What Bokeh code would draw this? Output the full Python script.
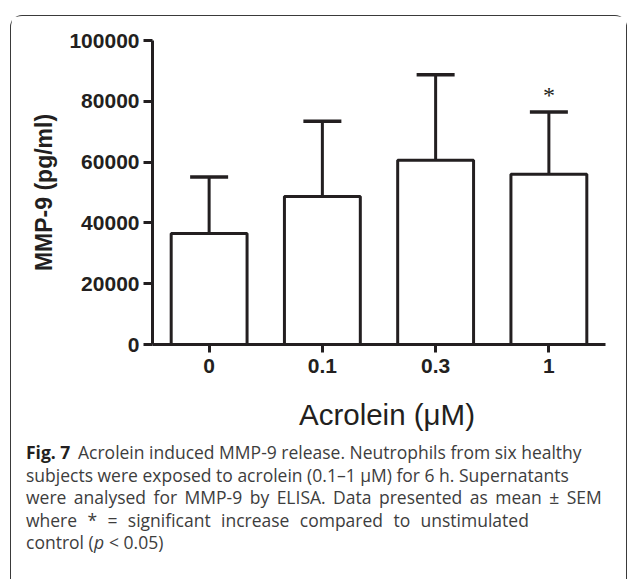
from bokeh.plotting import figure
from bokeh.layouts import column
from bokeh.models import (FactorRange, Range1d, FixedTicker, Whisker, TeeHead,
                          ColumnDataSource, LabelSet)
from bokeh.core.properties import value
from bokeh.embed import file_html
from bokeh.resources import INLINE

# ---- data ----
cats = ["0", "0.1", "0.3", "1"]
means = [36500, 48700, 60600, 56000]
sems = [18600, 24700, 28100, 20500]
sig = ["", "", "", "*"]
yticks = [0, 20000, 40000, 60000, 80000, 100000]
x_title = "Acrolein (\u03bcM)"
y_title = "MMP-9 (pg/ml)"

upper = [m + s for m, s in zip(means, sems)]
src = ColumnDataSource(dict(cat=cats, mean=means, upper=upper, sig=sig))

INK = "#231f20"
W = 615
OX, OY = 11.5, 16.5          # page offset of layout content (margin + border)
PH = 379                     # chart figure height

p = figure(width=W, height=PH, x_range=FactorRange(*cats), y_range=Range1d(0, 100000),
           output_backend="svg", toolbar_location=None, title=None,
           min_border_left=141, min_border_right=21, min_border_top=24, min_border_bottom=51)
p.outline_line_color = None
p.grid.visible = False
p.background_fill_color = "white"
p.border_fill_color = "white"

wh = Whisker(source=src, base="cat", lower="mean", upper="upper",
             line_color=INK, line_width=3,
             upper_head=TeeHead(size=38, line_color=INK, line_width=3.5),
             lower_head=None, level="underlay")
p.add_layout(wh)

p.vbar(x="cat", top="mean", width=0.67, source=src, fill_color="white",
       line_color=INK, line_width=3)

stars = LabelSet(x="cat", y="upper", text="sig", source=src, y_offset=9,
                 text_align="center", text_baseline="alphabetic",
                 text_font="Liberation Sans", text_font_size="24px", text_color=INK)
p.add_layout(stars)

for ax in (p.xaxis[0], p.yaxis[0]):
    ax.axis_line_width = 3
    ax.axis_line_color = INK
    ax.major_tick_line_width = 3
    ax.major_tick_line_color = INK
    ax.major_tick_in = 0
    ax.minor_tick_line_color = None
    ax.major_label_text_font = "Liberation Sans"
    ax.major_label_text_font_style = "bold"
    ax.major_label_text_font_size = "21px"
    ax.major_label_text_color = INK

p.yaxis.ticker = FixedTicker(ticks=yticks)
p.yaxis.major_tick_out = 9
p.yaxis.major_label_standoff = 4
p.yaxis.formatter.use_scientific = False
p.yaxis.axis_label = y_title
p.yaxis.axis_label_text_font = "Liberation Sans"
p.yaxis.axis_label_text_font_style = "bold"
p.yaxis.axis_label_text_font_size = "23px"
p.yaxis.axis_label_text_color = INK
p.yaxis.axis_label_standoff = 9

p.xaxis.major_tick_out = 8
p.xaxis.major_label_standoff = 6

# ---- lower figure: x-axis title + caption (1 data unit = 1 px) ----
CH = 184
c = figure(width=W, height=CH, x_range=Range1d(0, W), y_range=Range1d(CH, 0),
           output_backend="svg", toolbar_location=None, title=None,
           x_axis_location=None, y_axis_location=None, min_border=0)
c.outline_line_color = None
c.grid.visible = False

for fig in (p, c):
    try:
        fig.frame_align = False
    except Exception:
        pass

def cy(page_y):
    return page_y - (OY + PH)

def cxp(page_x):
    return page_x - OX

c.text(x=[cxp(387)], y=[cy(414)], text=[x_title], text_align="center",
       text_baseline="alphabetic", text_font=value("Liberation Sans"),
       text_font_size=value("29.5px"), text_color=INK)

CAP = "#3d3d3d"
FS = value("17.5px")
FONT = value("Open Sans")
x0 = cxp(26)
bl = [cy(452 + 22.5 * i) for i in range(5)]

def txt(xs, ys, ts, style="normal", color=CAP):
    c.text(x=xs, y=ys, text=ts, text_font=FONT, text_font_size=FS,
           text_font_style=style, text_color=color, text_baseline="alphabetic")

line3 = "were analysed for MMP-9 by ELISA. Data presented as mean \u00b1 SEM".replace(" ", " \u2006")
line4 = "where * = significant increase compared to unstimulated".replace(" ", " \u2004")

txt([x0], [bl[0]], ["Fig. 7"], "bold", INK)
txt([x0 + 52, x0, x0, x0, x0], bl,
    ["Acrolein induced MMP-9 release. Neutrophils from six healthy",
     "subjects were exposed to acrolein (0.1\u20131 \u03bcM) for 6 h. Supernatants",
     line3,
     line4,
     "control ("])
txt([x0 + 68], [bl[4]], ["p"], "italic")
txt([x0 + 83], [bl[4]], ["< 0.05)"])

layout = column(p, c, spacing=0, styles={
    "border": "1.5px solid #3a3a3a",
    "border-bottom": "none",
    "border-radius": "12px 12px 0 0",
    "margin-left": "10px",
    "margin-top": "15px",
})

open("out.html", "w").write(file_html(layout, INLINE))
